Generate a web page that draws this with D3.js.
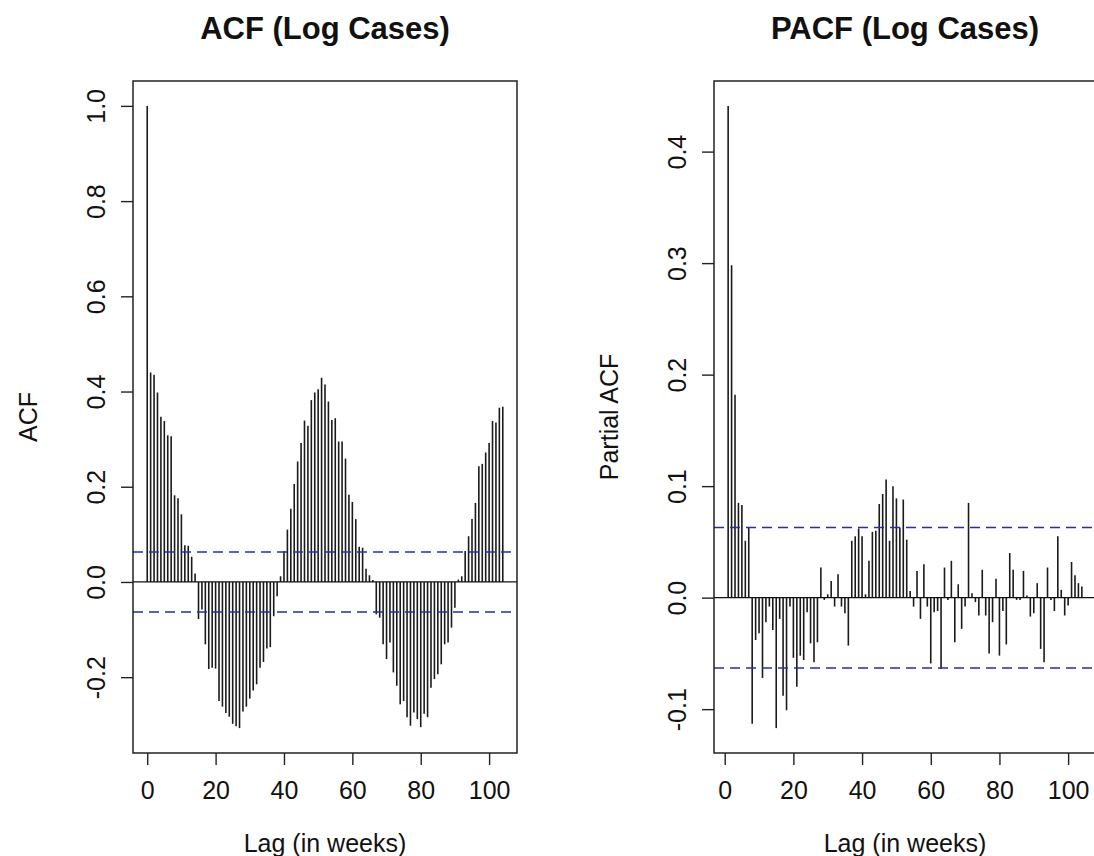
<!DOCTYPE html>
<html>
<head>
<meta charset="utf-8">
<script src="https://cdn.jsdelivr.net/npm/d3@7"></script>
<style>
  body { margin: 0; background: #fff; }
  text { font-family: "Liberation Sans", Arial, sans-serif; fill: #111; }
  .title { font-weight: bold; font-size: 31px; }
  .axisLabel { font-size: 25px; }
  .tick text { font-size: 25px; }
</style>
</head>
<body>
<div id="chart"></div>
<script>
// ACF of log cases, lags 0..104 (value index = lag)
var acfValues = [
  1.0, 0.440, 0.435, 0.398, 0.347, 0.338, 0.308, 0.306, 0.182, 0.176,
  0.142, 0.077, 0.076, 0.053, 0.018, -0.078, -0.058, -0.131, -0.183, -0.180,
  -0.182, -0.250, -0.262, -0.275, -0.283, -0.298, -0.303, -0.307, -0.272, -0.262,
  -0.245, -0.228, -0.215, -0.180, -0.168, -0.140, -0.137, -0.072, -0.030, 0.012,
  0.065, 0.110, 0.154, 0.206, 0.253, 0.292, 0.339, 0.328, 0.382, 0.398,
  0.405, 0.429, 0.415, 0.379, 0.340, 0.344, 0.295, 0.295, 0.259, 0.183,
  0.168, 0.132, 0.074, 0.072, 0.028, 0.014, 0.004, -0.068, -0.075, -0.131,
  -0.162, -0.127, -0.190, -0.218, -0.257, -0.250, -0.284, -0.302, -0.274, -0.288,
  -0.305, -0.277, -0.284, -0.222, -0.204, -0.194, -0.173, -0.131, -0.127, -0.096,
  -0.054, 0.005, 0.012, 0.065, 0.096, 0.132, 0.166, 0.243, 0.248, 0.272,
  0.292, 0.338, 0.335, 0.366, 0.368
];

// PACF of log cases, lags 1..104 (value index = lag - 1)
var pacfValues = [
  0.441, 0.298, 0.182, 0.085, 0.083, 0.051, 0.063, -0.113, -0.038, -0.032,
  -0.072, -0.022, -0.008, -0.029, -0.117, -0.019, -0.088, -0.101, -0.008, -0.054,
  -0.080, -0.052, -0.056, -0.013, -0.041, -0.058, -0.040, 0.027, -0.002, 0.003,
  0.015, -0.008, 0.021, -0.008, -0.014, -0.043, 0.051, 0.055, 0.062, 0.055,
  0.003, 0.033, 0.059, 0.060, 0.084, 0.093, 0.106, 0.051, 0.100, 0.089,
  0.063, 0.088, 0.052, 0.006, -0.008, 0.024, -0.019, 0.030, -0.008, -0.059,
  -0.013, -0.012, -0.064, 0.027, -0.002, 0.033, -0.040, 0.012, -0.028, -0.008,
  0.085, 0.004, -0.004, -0.016, 0.025, -0.016, -0.050, -0.022, 0.017, -0.052,
  -0.012, -0.042, 0.040, 0.025, -0.002, -0.002, 0.024, 0.002, -0.017, -0.014,
  0.013, -0.046, -0.058, 0.027, -0.002, -0.012, 0.055, 0.007, -0.016, -0.007,
  0.032, 0.020, 0.013, 0.010
];

var ciLevel = 0.063;
var lagTicks = [0, 20, 40, 60, 80, 100];
var acfTicks = [-0.2, 0.0, 0.2, 0.4, 0.6, 0.8, 1.0];
var pacfTicks = [-0.1, 0.0, 0.1, 0.2, 0.3, 0.4];

var width = 1094, height = 856;

var svg = d3.select("#chart")
  .append("svg")
  .attr("width", width)
  .attr("height", height);

svg.append("rect").attr("width", width).attr("height", height).attr("fill", "#fff");

var fmt = function(d) { return d3.format(".1f")(d).replace("\u2212", "-"); };

// R style: extend the data range by 4% on each side
function rRange(lo, hi) {
  var pad = (hi - lo) * 0.04;
  return [lo - pad, hi + pad];
}

function drawPanel(p) {
  var lags = p.values.map(function(d, i) { return i + p.firstLag; });
  var xScale = d3.scaleLinear()
    .domain(rRange(d3.min(lags), d3.max(lags)))
    .range([p.left, p.right]);
  var yLo = Math.min(d3.min(p.values), -ciLevel);
  var yHi = Math.max(d3.max(p.values), ciLevel);
  var yScale = d3.scaleLinear()
    .domain(rRange(yLo, yHi))
    .range([p.bottom, p.top]);

  var g = svg.append("g");

  // bars (spikes)
  g.selectAll("line.spike")
    .data(p.values)
    .enter()
    .append("line")
      .attr("class", "spike")
      .attr("x1", function(d, i) { return xScale(lags[i]); })
      .attr("x2", function(d, i) { return xScale(lags[i]); })
      .attr("y1", yScale(0))
      .attr("y2", function(d) { return yScale(d); })
      .attr("stroke", "#1a1a1a")
      .attr("stroke-width", 1.6);

  // zero line
  g.append("line")
    .attr("x1", p.left).attr("x2", p.right)
    .attr("y1", yScale(0)).attr("y2", yScale(0))
    .attr("stroke", "#111").attr("stroke-width", 1.3);

  // confidence bounds
  [ciLevel, -ciLevel].forEach(function(c) {
    g.append("line")
      .attr("x1", p.left).attr("x2", p.right)
      .attr("y1", yScale(c)).attr("y2", yScale(c))
      .attr("stroke", "#2b2ba8")
      .attr("stroke-width", 1.5)
      .attr("stroke-dasharray", "10,6");
  });

  // box
  g.append("rect")
    .attr("x", p.left).attr("y", p.top)
    .attr("width", p.right - p.left).attr("height", p.bottom - p.top)
    .attr("fill", "none").attr("stroke", "#222").attr("stroke-width", 1.5);

  // x axis
  var xAxis = g.append("g")
    .attr("transform", `translate(0,${p.bottom})`)
    .call(d3.axisBottom(xScale).tickValues(lagTicks).tickSize(12).tickPadding(16).tickFormat(d3.format("d")));
  xAxis.select(".domain").remove();
  xAxis.selectAll(".tick line").attr("stroke", "#222").attr("stroke-width", 1.4);

  // y axis, labels parallel to axis
  var yAxis = g.append("g")
    .attr("transform", `translate(${p.left},0)`)
    .call(d3.axisLeft(yScale).tickValues(p.yTicks).tickSize(12).tickFormat(fmt));
  yAxis.select(".domain").remove();
  yAxis.selectAll(".tick line").attr("stroke", "#222").attr("stroke-width", 1.4);
  yAxis.selectAll(".tick text")
    .attr("transform", "rotate(-90)")
    .attr("x", 0)
    .attr("y", -37)
    .attr("dy", "0.35em")
    .attr("text-anchor", "middle");

  var cx = (p.left + p.right) / 2;

  svg.append("text")
    .attr("class", "title")
    .attr("x", cx)
    .attr("y", 39)
    .attr("text-anchor", "middle")
    .text(p.title);

  svg.append("text")
    .attr("class", "axisLabel")
    .attr("x", cx)
    .attr("y", 852)
    .attr("text-anchor", "middle")
    .text("Lag (in weeks)");

  svg.append("text")
    .attr("class", "axisLabel")
    .attr("transform", "rotate(-90)")
    .attr("x", -(p.top + p.bottom) / 2)
    .attr("y", p.left - 105)
    .attr("dy", "0.35em")
    .attr("text-anchor", "middle")
    .text(p.yLabel);
}

drawPanel({
  values: acfValues, firstLag: 0, yTicks: acfTicks,
  left: 133, right: 517, top: 81, bottom: 753,
  title: "ACF (Log Cases)", yLabel: "ACF"
});

drawPanel({
  values: pacfValues, firstLag: 1, yTicks: pacfTicks,
  left: 714, right: 1096, top: 81, bottom: 753,
  title: "PACF (Log Cases)", yLabel: "Partial ACF"
});
</script>
</body>
</html>
